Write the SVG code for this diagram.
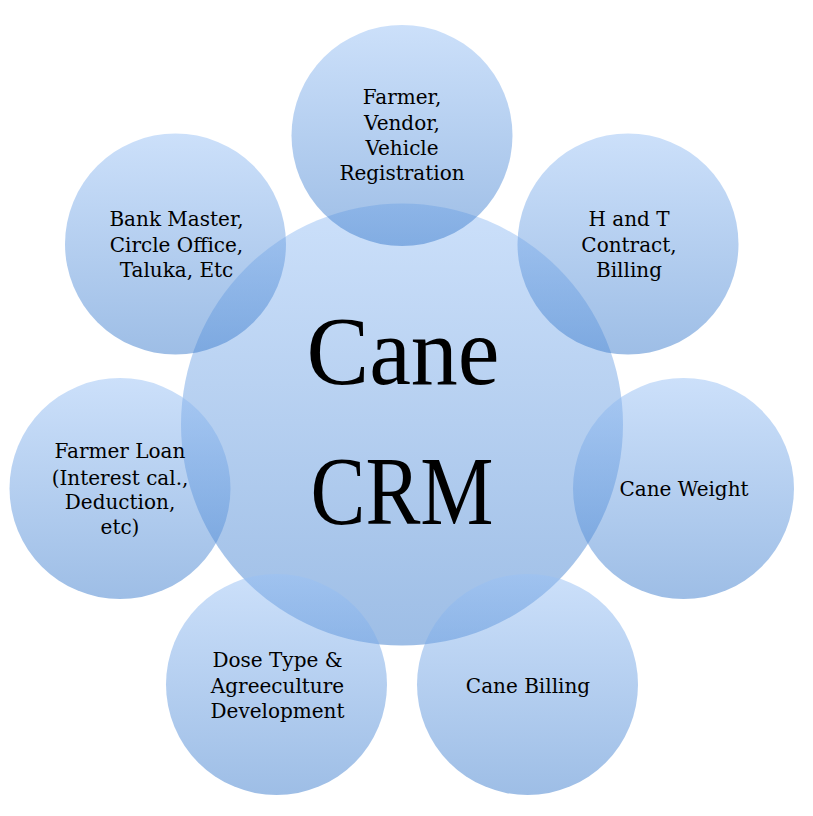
<svg xmlns="http://www.w3.org/2000/svg" width="813" height="816" viewBox="0 0 813 816">
  <defs>
    <linearGradient id="g" x1="0" y1="0" x2="0" y2="1">
      <stop offset="0" stop-color="#99c1f5"/>
      <stop offset="1" stop-color="#3d7dcd"/>
    </linearGradient>
  </defs>
  <style>
    .c { fill: url(#g); fill-opacity: 0.5; }
    .t { font-family: "DejaVu Serif", "Liberation Serif", serif; font-size: 20px; fill: #000; text-anchor: middle; }
    .big { font-family: "Liberation Serif", "DejaVu Serif", serif; font-size: 97px; fill: #000; text-anchor: middle; }
  </style>
  <rect width="813" height="816" fill="#fff"/>
  <g id="connectors"/>
  <g id="node-center">
    <circle class="c" cx="402" cy="424.5" r="221"/>
    <text class="big" x="403" y="384" textLength="193" lengthAdjust="spacingAndGlyphs">Cane</text>
    <text class="big" x="402" y="524" textLength="183" lengthAdjust="spacingAndGlyphs">CRM</text>
  </g>
  <g id="node-registration">
    <circle class="c" cx="402" cy="135.5" r="110.5"/>
    <text class="t" x="402" y="104">Farmer,</text>
    <text class="t" x="402" y="130">Vendor,</text>
    <text class="t" x="402" y="155">Vehicle</text>
    <text class="t" x="402" y="180">Registration</text>
  </g>
  <g id="node-handt">
    <circle class="c" cx="628" cy="244" r="110.5"/>
    <text class="t" x="629" y="226">H and T</text>
    <text class="t" x="629" y="252">Contract,</text>
    <text class="t" x="629" y="277">Billing</text>
  </g>
  <g id="node-weight">
    <circle class="c" cx="683.5" cy="488.5" r="110.5"/>
    <text class="t" x="684" y="496">Cane Weight</text>
  </g>
  <g id="node-billing">
    <circle class="c" cx="527.5" cy="684.5" r="110.5"/>
    <text class="t" x="528" y="693">Cane Billing</text>
  </g>
  <g id="node-dose">
    <circle class="c" cx="276.5" cy="684.5" r="110.5"/>
    <text class="t" x="277.5" y="667">Dose Type &amp;</text>
    <text class="t" x="277.5" y="693">Agreeculture</text>
    <text class="t" x="277.5" y="718">Development</text>
  </g>
  <g id="node-loan">
    <circle class="c" cx="120" cy="488.5" r="110.5"/>
    <text class="t" x="120" y="458">Farmer Loan</text>
    <text class="t" x="120" y="485">(Interest cal.,</text>
    <text class="t" x="120" y="509">Deduction,</text>
    <text class="t" x="120" y="534">etc)</text>
  </g>
  <g id="node-bank">
    <circle class="c" cx="175.5" cy="244" r="110.5"/>
    <text class="t" x="176.5" y="226">Bank Master,</text>
    <text class="t" x="176.5" y="252">Circle Office,</text>
    <text class="t" x="176.5" y="277">Taluka, Etc</text>
  </g>
</svg>
